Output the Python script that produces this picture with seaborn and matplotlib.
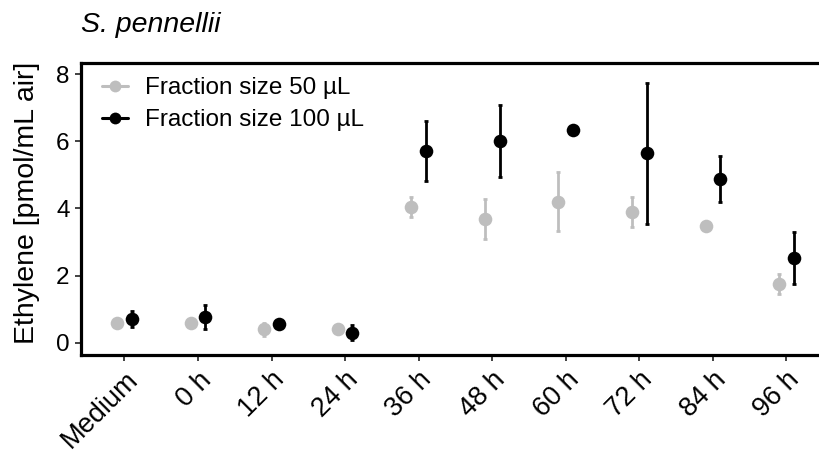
import matplotlib
matplotlib.use("Agg")
import matplotlib.pyplot as plt
from matplotlib.lines import Line2D
import numpy as np
import pandas as pd
import seaborn as sns

# Harvest times and the two fraction sizes
times = ["Medium", "0 h", "12 h", "24 h", "36 h", "48 h", "60 h", "72 h", "84 h", "96 h"]
fractions = ["Fraction size 50 µL", "Fraction size 100 µL"]

# Mean ethylene release [pmol/mL air] and its error per fraction size
mean_50 = [0.60, 0.60, 0.40, 0.40, 4.05, 3.68, 4.20, 3.90, 3.48, 1.74]
err_50 = [0.08, 0.07, 0.20, 0.08, 0.30, 0.60, 0.88, 0.45, 0.12, 0.30]
mean_100 = [0.70, 0.76, 0.56, 0.30, 5.71, 6.00, 6.33, 5.64, 4.88, 2.53]
err_100 = [0.24, 0.36, 0.06, 0.22, 0.90, 1.07, 0.10, 2.10, 0.68, 0.78]

colors = ["#BEBEBE", "#000000"]

df = pd.DataFrame({
    "time": times * 2,
    "ethylene": mean_50 + mean_100,
    "err": err_50 + err_100,
    "fraction": [fractions[0]] * len(times) + [fractions[1]] * len(times),
})

sns.set_theme(style="white")
plt.rcParams["font.family"] = ["Liberation Sans", "DejaVu Sans"]
plt.rcParams["text.color"] = "black"
plt.rcParams["axes.labelcolor"] = "black"

fig, ax = plt.subplots(figsize=(8.19, 4.57), dpi=100)
fig.subplots_adjust(left=0.0995, right=1.0, top=0.863, bottom=0.223)

n_before = len(ax.lines)
sns.pointplot(
    data=df, x="time", y="ethylene", hue="fraction",
    order=times, hue_order=fractions, palette=colors,
    dodge=0.2, linestyle="none", errorbar=None, markers="o",
    markersize=9.8, markeredgewidth=0, legend=False, ax=ax, zorder=3,
)

# Error bars at the dodged positions used by the points
point_lines = ax.lines[n_before:]
for line, frac, col in zip(point_lines, fractions, colors):
    sub = df[df["fraction"] == frac].set_index("time").loc[times]
    ax.errorbar(
        line.get_xdata(), sub["ethylene"], yerr=sub["err"], fmt="none",
        ecolor=col, elinewidth=2.0, capsize=1.6, capthick=2.0, zorder=2,
    )

ax.set_xlim(-0.584, 9.443)
ax.set_ylim(-0.37, 8.34)
ax.set_yticks([0, 2, 4, 6, 8])

ax.set_xlabel("")
ax.set_ylabel("Ethylene [pmol/mL air]", fontsize=20.5)
ax.yaxis.set_label_coords(-0.056, 0.52)
ax.set_title("S. pennellii", loc="left", fontsize=20.5, fontstyle="italic",
             pad=22, color="black")

for side in ["top", "left", "bottom"]:
    ax.spines[side].set_visible(True)
    ax.spines[side].set_linewidth(2.3)
    ax.spines[side].set_color("black")
ax.spines["right"].set_visible(False)

ax.tick_params(axis="both", which="both", direction="out", length=4.5,
               width=1.3, color="#333333", labelcolor="black", left=True, bottom=True)
ax.tick_params(axis="y", labelsize=17.5, pad=4)
ax.tick_params(axis="x", labelsize=19.5, pad=4)
for lab in ax.get_xticklabels():
    lab.set_rotation(45)
    lab.set_ha("right")
    lab.set_va("top")
    lab.set_rotation_mode("anchor")

handles = [
    Line2D([0], [0], color=c, marker="o", markersize=8.5, linewidth=2.2,
           markeredgewidth=0)
    for c in colors
]
leg = ax.legend(handles, fractions, loc="upper left", bbox_to_anchor=(0.028, 0.95),
                frameon=False, fontsize=17.5, handlelength=1.05, handletextpad=0.72,
                labelspacing=0.42, borderpad=0, borderaxespad=0)
for t in leg.get_texts():
    t.set_color("black")

fig.savefig("out.png", dpi=100)
